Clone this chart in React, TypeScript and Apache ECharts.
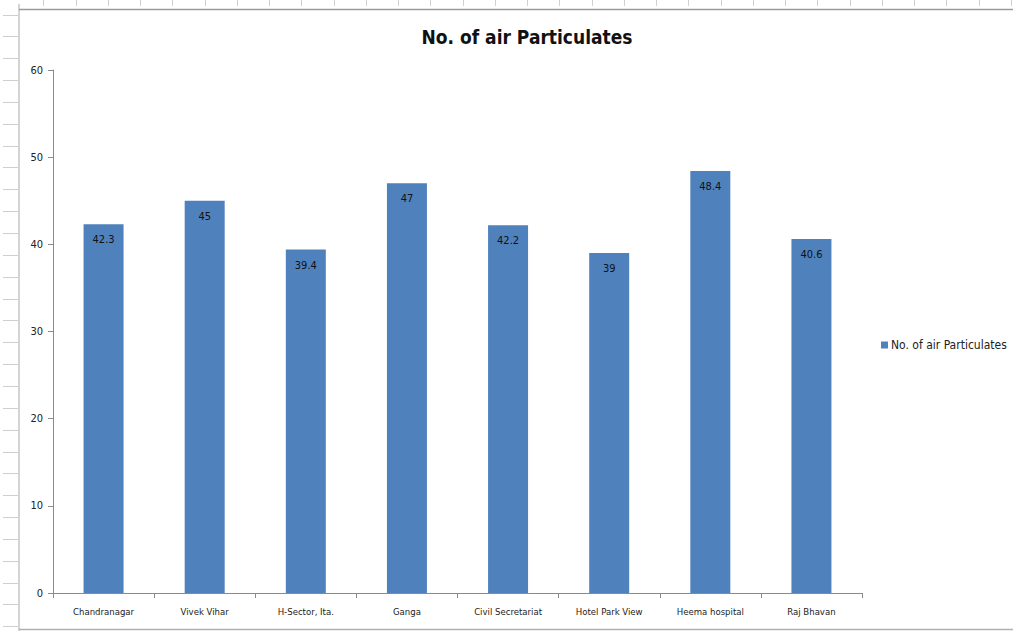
import React, { useEffect, useRef } from "react";
import * as echarts from "echarts";

const categories = [
  "Chandranagar",
  "Vivek Vihar",
  "H-Sector, Ita.",
  "Ganga",
  "Civil Secretariat",
  "Hotel Park View",
  "Heema hospital",
  "Raj Bhavan",
];
const values = [42.3, 45, 39.4, 47, 42.2, 39, 48.4, 40.6];
const seriesName = "No. of air Particulates";
const titleText = "No. of air Particulates";

const FONT = "'Liberation Sans Narrow', 'DejaVu Sans Condensed', 'Liberation Sans', sans-serif";

export default function App() {
  const ref = useRef<HTMLDivElement>(null);
  useEffect(() => {
    if (!ref.current) return;
    const chart = echarts.init(ref.current, undefined, { renderer: "svg" });
    const graphics: any[] = [];
    // spreadsheet ruler decoration (left)
    for (let y = 14.5; y < 631; y += 21.85) {
      graphics.push({
        type: "line",
        shape: { x1: 3, y1: Math.round(y) + 0.5, x2: 18, y2: Math.round(y) + 0.5 },
        style: { stroke: "#cfcfcf", lineWidth: 1 },
        silent: true,
      });
    }
    // top ruler
    for (let x = 43.3; x < 1013; x += 32.25) {
      graphics.push({
        type: "line",
        shape: { x1: Math.round(x) + 0.5, y1: 0, x2: Math.round(x) + 0.5, y2: 6 },
        style: { stroke: "#d0d0d0", lineWidth: 1 },
        silent: true,
      });
    }
    graphics.push(
      {
        type: "line",
        shape: { x1: 19, y1: 4, x2: 19, y2: 631 },
        style: { stroke: "#d4d4d4", lineWidth: 2 },
        silent: true,
      },
      {
        type: "line",
        shape: { x1: 19, y1: 9.5, x2: 1013, y2: 9.5 },
        style: { stroke: "#9a9a9a", lineWidth: 1.5 },
        silent: true,
      },
      {
        type: "line",
        shape: { x1: 19, y1: 629.5, x2: 1013, y2: 629.5 },
        style: { stroke: "#b0b0b0", lineWidth: 1.5 },
        silent: true,
      }
    );

    chart.setOption({
      animation: false,
      backgroundColor: "#ffffff",
      title: {
        text: titleText,
        left: 522,
        top: 22,
        textAlign: "center",
        textStyle: {
          fontFamily: FONT,
          fontSize: 19,
          fontWeight: "bold",
          color: "#111111",
        },
      },
      legend: {
        left: 876,
        top: 334,
        itemWidth: 7,
        itemHeight: 7,
        itemGap: 4,
        icon: "rect",
        textStyle: { fontFamily: FONT, fontSize: 12, color: "#222222", padding: [0, 0, 0, -2] },
        data: [seriesName],
      },
      grid: { left: 53, right: 151, top: 70, bottom: 38, containLabel: false },
      xAxis: {
        type: "category",
        data: categories,
        axisLine: { lineStyle: { color: "#8a8a8a", width: 1 } },
        axisTick: { show: true, alignWithLabel: false, length: 5, lineStyle: { color: "#8a8a8a" } },
        axisLabel: {
          fontFamily: FONT,
          fontSize: 9.5,
          color: "#222222",
          margin: 13,
          interval: 0,
        },
      },
      yAxis: {
        type: "value",
        min: 0,
        max: 60,
        interval: 10,
        splitLine: { show: false },
        axisLine: { show: true, lineStyle: { color: "#8a8a8a", width: 1 } },
        axisTick: { show: true, length: 5, lineStyle: { color: "#8a8a8a" } },
        axisLabel: { fontFamily: FONT, fontSize: 11, color: "#222222", margin: 10 },
      },
      series: [
        {
          name: seriesName,
          type: "bar",
          data: values,
          barWidth: 40,
          itemStyle: { color: "#4F81BD" },
          label: {
            show: true,
            position: "insideTop",
            distance: 10,
            fontFamily: FONT,
            fontSize: 11,
            color: "#111111",
          },
        },
      ],
      graphic: graphics,
    });
    return () => chart.dispose();
  }, []);
  return (
    <div
      ref={ref}
      style={{ position: "fixed", left: 0, top: 0, width: 1013, height: 631 }}
    />
  );
}
